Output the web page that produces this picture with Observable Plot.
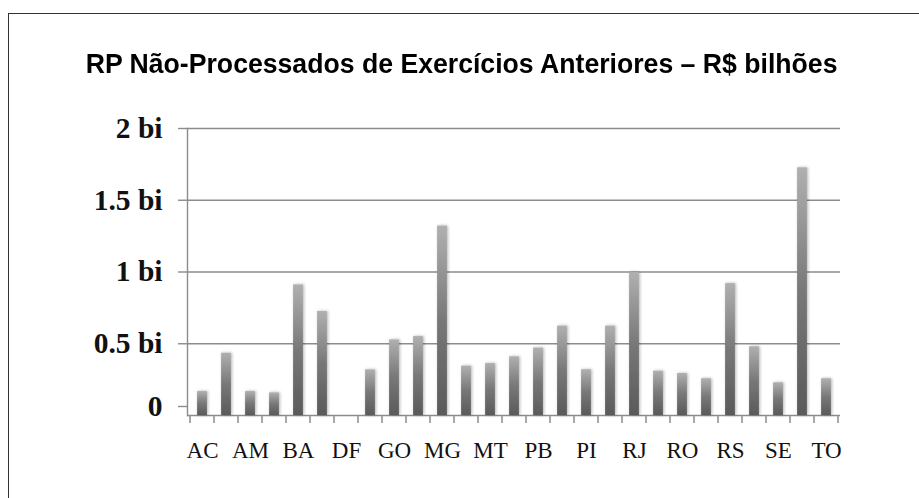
<!DOCTYPE html>
<html><head><meta charset="utf-8">
<script src="https://cdn.jsdelivr.net/npm/d3@7"></script>
<script src="https://cdn.jsdelivr.net/npm/@observablehq/plot@0.6"></script>
<style>
body{margin:0;background:#fff;width:919px;height:498px;overflow:hidden;position:relative;}
#frame{position:absolute;left:8px;top:13px;width:940px;height:520px;border-top:1.5px solid #333;border-left:1.5px solid #333;}
#title{position:absolute;left:2px;top:48.5px;width:919px;text-align:center;font:bold 28px "Liberation Sans",Arial,sans-serif;line-height:30px;color:#000;white-space:nowrap;transform:scaleX(0.951);transform-origin:461px 0;}
#chart{position:absolute;left:0;top:100px;}
</style></head><body>
<div id="frame"></div>
<div id="title">RP Não-Processados de Exercícios Anteriores – R$ bilhões</div>
<div id="chart"></div>
<script>
const states = ["AC","AL","AM","AP","BA","CE","DF","ES","GO","MA","MG","MS","MT","PA","PB","PE","PI","PR","RJ","RN","RO","RR","RS","SC","SE","SP","TO"];
const values = [0.167,0.434,0.167,0.158,0.91,0.725,0,0.318,0.527,0.55,1.32,0.344,0.362,0.409,0.47,0.623,0.319,0.623,0.995,0.309,0.293,0.256,0.919,0.479,0.228,1.726,0.256];
const yTicks = [0, 0.5, 1, 1.5, 2];
const yTickLabels = ["0", "0.5 bi", "1 bi", "1.5 bi", "2 bi"];

const data = states.map((s, i) => ({state: s, value: values[i]}));

const defsMark = () => {
  const defs = d3.create("svg:defs");
  const g = defs.append("linearGradient").attr("id", "barGrad")
    .attr("x1", 0).attr("y1", 0).attr("x2", 0).attr("y2", 1);
  g.append("stop").attr("offset", "0%").attr("stop-color", "#b0b0b0");
  g.append("stop").attr("offset", "50%").attr("stop-color", "#787878");
  g.append("stop").attr("offset", "100%").attr("stop-color", "#5a5a5a");
  const f = defs.append("filter").attr("id", "shadow")
    .attr("x", "-50%").attr("y", "-10%").attr("width", "200%").attr("height", "120%");
  f.append("feDropShadow").attr("dx", 1).attr("dy", 0).attr("stdDeviation", 1.5)
    .attr("flood-color", "#000").attr("flood-opacity", 0.3);
  return defs.node();
};

const boundaryTicks = (index, scales, values, dims) => {
  const x = scales.x;
  const bw = x.bandwidth();
  const y0 = dims.height - dims.marginBottom;
  const xs = states.map(s => x(s)).concat([x(states[states.length - 1]) + bw]);
  const g = d3.create("svg:g");
  g.selectAll("line").data(xs).join("line")
    .attr("x1", d => d).attr("x2", d => d)
    .attr("y1", y0).attr("y2", y0 + 8)
    .attr("stroke", "#8c8c8c").attr("stroke-width", 1.5);
  return g.node();
};

const yAxisStyle = {
  tickFormat: d => yTickLabels[yTicks.indexOf(d)],
  tickSize: 9, tickPadding: 16,
  stroke: "#8c8c8c", strokeWidth: 1.4, fill: "#111",
  fontSize: 29.5, fontFamily: "Liberation Serif, serif", fontWeight: "bold",
  label: null
};

const chart = Plot.plot({
  width: 919,
  height: 398,
  marginLeft: 187,
  marginRight: 79,
  marginTop: 28,
  marginBottom: 83,
  x: {domain: states, padding: 0},
  y: {domain: [0, 2]},
  marks: [
    defsMark,
    Plot.gridY(yTicks, {stroke: "#8c8c8c", strokeOpacity: 1, strokeWidth: 1.4}),
    Plot.frame({anchor: "left", stroke: "#8c8c8c", strokeWidth: 1.4}),
    Plot.barY(data, {x: "state", y: "value", fill: "url(#barGrad)", insetLeft: 7.1, insetRight: 7.1}),
    boundaryTicks,
    Plot.axisY({...yAxisStyle, ticks: yTicks.filter(d => d !== 0)}),
    Plot.axisY({...yAxisStyle, ticks: [0], dy: -9}),
    Plot.axisX({
      tickSize: 0, tickPadding: 26,
      tickFormat: d => states.indexOf(d) % 2 ? "" : d,
      fill: "#111",
      fontSize: 23, fontFamily: "Liberation Serif, serif",
      label: null
    })
  ]
});
d3.select(chart).selectAll('g[aria-label="bar"]').attr("filter", "url(#shadow)");
document.getElementById("chart").appendChild(chart);
</script>
</body></html>
